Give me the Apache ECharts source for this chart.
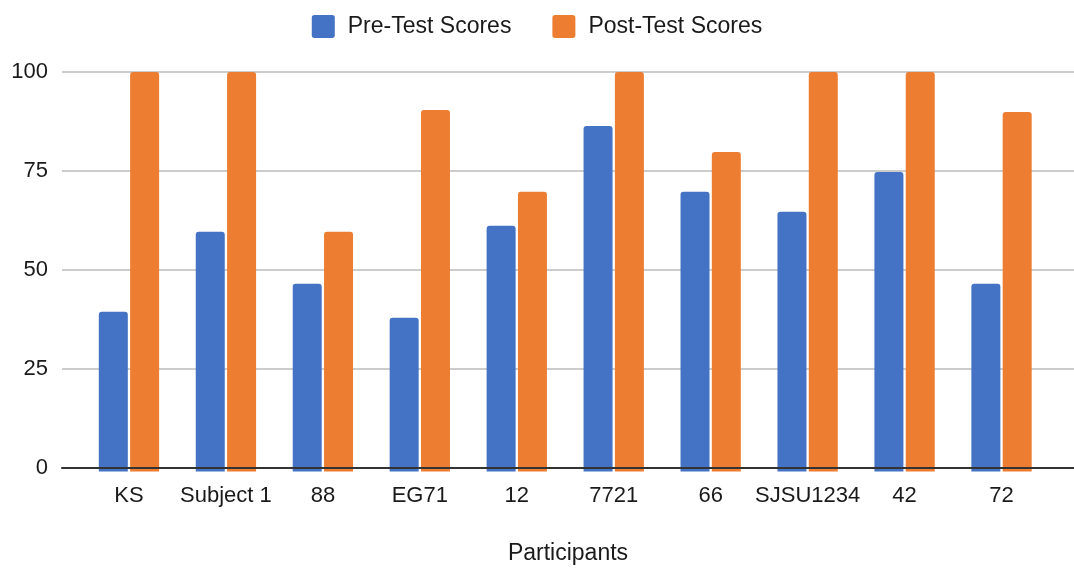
<!DOCTYPE html>
<html>
<head>
<meta charset="utf-8">
<script src="https://cdn.jsdelivr.net/npm/echarts@6/dist/echarts.min.js"></script>
<style>
html,body{margin:0;padding:0;background:#fff;}
#c{width:1074px;height:570px;}
</style>
</head>
<body>
<div id="c"></div>
<script>
const categories = ['KS', 'Subject 1', '88', 'EG71', '12', '7721', '66', 'SJSU1234', '42', '72'];
const preTest = [40, 60, 47, 38.5, 61.5, 86.5, 70, 65, 75, 47];
const postTest = [100, 100, 60, 90.5, 70, 100, 80, 100, 100, 90];
const yTicks = [0, 25, 50, 75, 100];
const seriesNames = ['Pre-Test Scores', 'Post-Test Scores'];
const xTitle = 'Participants';

const FONT = '"Liberation Sans", Arial, sans-serif';
const ICON = 'path://M12,0H88A12,12,0,0,1,100,12V88A12,12,0,0,1,88,100H12A12,12,0,0,1,0,88V12A12,12,0,0,1,12,0Z';
const chart = echarts.init(document.getElementById('c'), null, {renderer: 'canvas'});
chart.setOption({
  animation: false,
  backgroundColor: '#fff',
  textStyle: {fontFamily: FONT},
  legend: {
    data: seriesNames,
    top: 10,
    left: 'center',
    icon: ICON,
    itemWidth: 23,
    itemHeight: 23,
    itemGap: 41,
    textStyle: {fontFamily: FONT, fontSize: 23, color: '#1a1a1a', padding: [0, 0, 0, 8]}
  },
  grid: [
    {left: 62, right: 0, top: 72, bottom: 98.5, containLabel: false},
    {left: 80.5, right: 24, top: 72, bottom: 98.5, containLabel: false}
  ],
  xAxis: [
    {
      gridIndex: 0, type: 'value', min: 0, max: 1, z: 10,
      axisLine: {show: true, lineStyle: {color: '#333', width: 2}},
      axisTick: {show: false}, axisLabel: {show: false}, splitLine: {show: false},
      name: xTitle, nameLocation: 'middle', nameGap: 74,
      nameTextStyle: {fontFamily: FONT, fontSize: 23, color: '#1a1a1a'}
    },
    {
      gridIndex: 1, type: 'category', data: categories,
      axisLine: {show: false}, axisTick: {show: false},
      axisLabel: {fontFamily: FONT, fontSize: 22, color: '#1a1a1a', margin: 13, interval: 0},
      splitLine: {show: false}
    }
  ],
  yAxis: [
    {
      gridIndex: 0, type: 'value', min: yTicks[0], max: yTicks[yTicks.length - 1], interval: 25,
      axisLine: {show: false}, axisTick: {show: false},
      axisLabel: {fontFamily: FONT, fontSize: 22, color: '#1a1a1a', margin: 14},
      splitLine: {show: true, lineStyle: {color: '#cccccc', width: 2}}
    },
    {
      gridIndex: 1, type: 'value', min: yTicks[0], max: yTicks[yTicks.length - 1], interval: 25,
      show: false, splitLine: {show: false}
    }
  ],
  series: [
    {
      name: seriesNames[0], type: 'bar', xAxisIndex: 1, yAxisIndex: 1,
      data: preTest, barWidth: 29, barGap: '8%',
      itemStyle: {color: '#4472C4', borderRadius: [3, 3, 0, 0]}
    },
    {
      name: seriesNames[1], type: 'bar', xAxisIndex: 1, yAxisIndex: 1,
      data: postTest, barWidth: 29, barGap: '8%',
      itemStyle: {color: '#ED7D31', borderRadius: [3, 3, 0, 0]}
    }
  ]
});
</script>
</body>
</html>
